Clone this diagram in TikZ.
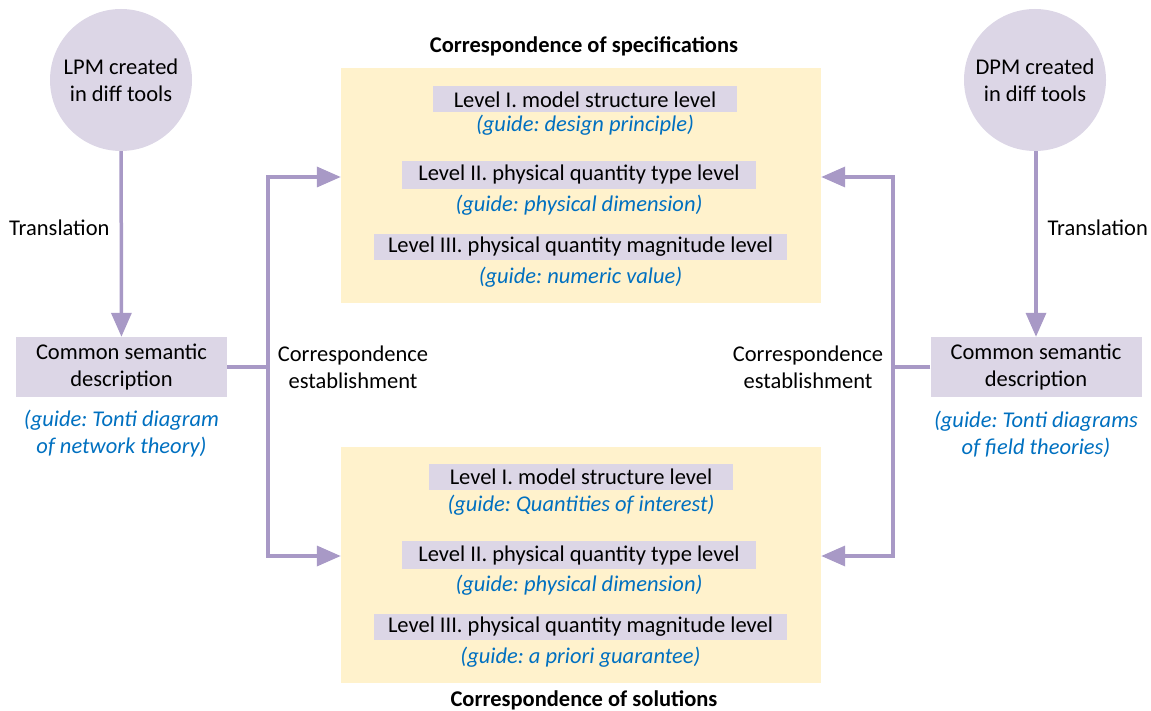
\documentclass[tikz,border=0pt]{standalone}
\usepackage{fontspec}
\setmainfont{Carlito}
\usetikzlibrary{arrows.meta}
\definecolor{lav}{HTML}{DCD6E6}
\definecolor{conn}{HTML}{A899C6}
\definecolor{guideblue}{HTML}{0070C0}
\definecolor{paleyellow}{HTML}{FFF2CC}
\frenchspacing
\tikzset{
  base/.style={font=\fontsize{22.5}{27}\selectfont, text=black},
  src/.style={base, circle, fill=lav, minimum size=142pt, inner sep=0pt, align=center},
  semantic/.style={base, fill=lav, minimum width=211pt, minimum height=60pt, inner sep=0pt, align=center},
  panel/.style={fill=paleyellow, minimum width=480pt, inner sep=0pt},
  levelbox/.style={base, fill=lav, inner sep=0pt, minimum height=26pt},
  guide/.style={base, text=guideblue, font=\fontsize{22.5}{27}\selectfont\itshape, align=center},
  plain/.style={base, align=center},
  heading/.style={base, font=\fontsize{22.5}{27}\selectfont\bfseries},
  link/.style={draw=conn, line width=3.5pt},
  arr/.style={link, -{Triangle[length=24pt,width=20pt]}},
}
\begin{document}
\begin{tikzpicture}[x=1pt,y=-1pt]
\useasboundingbox (0,0) rectangle (1151,711);

% yellow panels
\node[panel, minimum height=235pt] (spec) at (581,185.5) {};
\node[panel, minimum height=236pt] (sol) at (581,565) {};
\node[heading] (spectitle) at (584,46) {Correspondence of specifications};
\node[heading] (soltitle) at (584,700) {Correspondence of solutions};

% levels of the specification panel
\node[levelbox, minimum width=304pt] (s1) at (585,99.5) {Level I. model structure level};
\node[guide] (g1) at (585,125) {(guide: design principle)};
\node[levelbox, minimum width=354pt, minimum height=28pt] (s2) at (579,175) {Level II. physical quantity type level};
\node[guide] (g2) at (579,205) {(guide: physical dimension)};
\node[levelbox, minimum width=413pt] (s3) at (580.5,247) {Level III. physical quantity magnitude level};
\node[guide] (g3) at (580.5,277) {(guide: numeric value)};

% levels of the solution panel
\node[levelbox, minimum width=304pt] (t1) at (581,476.5) {Level I. model structure level};
\node[guide] (h1) at (581,505) {(guide: Quantities of interest)};
\node[levelbox, minimum width=354pt, minimum height=28pt] (t2) at (579,555) {Level II. physical quantity type level};
\node[guide] (h2) at (579,585) {(guide: physical dimension)};
\node[levelbox, minimum width=413pt] (t3) at (580.5,626.5) {Level III. physical quantity magnitude level};
\node[guide] (h3) at (580.5,657) {(guide: a priori guarantee)};

% left side
\node[src] (lpm) at (121,80) {LPM created\\in diff tools};
\node[semantic] (lsem) at (121.5,367) {Common semantic\\description};
\node[guide] (lguide) at (121.5,434) {(guide: Tonti diagram\\of network theory)};
\node[plain, anchor=east] (ltrans) at (113,228) {Translation};
\node[plain] (lcorr) at (353,367) {Correspondence\\establishment};

% right side
\node[src] (dpm) at (1035,80) {DPM created\\in diff tools};
\node[semantic] (rsem) at (1036,367) {Common semantic\\description};
\node[guide] (rguide) at (1036,434) {(guide: Tonti diagrams\\of field theories)};
\node[plain, anchor=west] (rtrans) at (1044,228) {Translation};
\node[plain] (rcorr) at (808,367) {Correspondence\\establishment};

% translations
\draw[arr] (lpm) -- (lsem);
\draw[arr] (dpm.south -| rsem.north) -- (rsem);

% correspondence connectors
\coordinate (lj) at (268,367);
\coordinate (lt) at (268,177);
\coordinate (lb) at (268,556);
\draw[link] (lsem.east) -- (lj);
\draw[arr] (lj) -- (lt) -- (spec.west |- lt);
\draw[arr] (lj) -- (lb) -- (sol.west |- lb);

\coordinate (rj) at (893,367);
\coordinate (rt) at (893,177);
\coordinate (rb) at (893,556);
\draw[link] (rsem.west) -- (rj);
\draw[arr] (rj) -- (rt) -- (spec.east |- rt);
\draw[arr] (rj) -- (rb) -- (sol.east |- rb);
\end{tikzpicture}
\end{document}
